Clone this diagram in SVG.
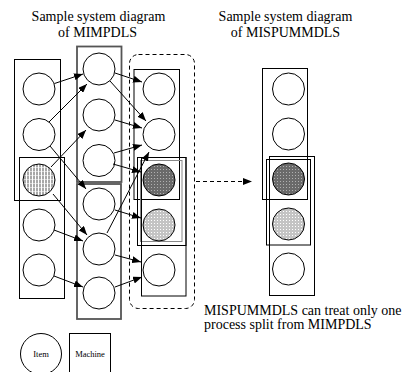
<svg xmlns="http://www.w3.org/2000/svg" width="402" height="372" viewBox="0 0 402 372">
<style>
.t{font-family:"Liberation Serif","Times New Roman",serif;font-size:14px;fill:#000}
.s{font-family:"Liberation Serif","Times New Roman",serif;font-size:8.5px;fill:#000;text-anchor:middle}
.m{fill:none;stroke:#000;stroke-width:1}
.m2{fill:none;stroke:#555;stroke-width:1.8}
.mg{fill:none;stroke:#888;stroke-width:1}
.i{fill:#fff;stroke:#000;stroke-width:1}
.ih{fill:url(#hatch);stroke:#000;stroke-width:1}
.id{fill:url(#dark);stroke:#000;stroke-width:1}
.il{fill:url(#light);stroke:#000;stroke-width:1}
.c{stroke:#000;stroke-width:1;fill:none;marker-end:url(#ah)}
.d{stroke:#000;stroke-width:1;fill:none;stroke-dasharray:4,3}
</style>
<defs>
<marker id="ah" markerUnits="userSpaceOnUse" markerWidth="9" markerHeight="7" refX="9" refY="3.5" orient="auto"><path d="M0,0 L9,3.5 L0,7 z" fill="#000"/></marker>
<pattern id="hatch" width="3" height="4" patternUnits="userSpaceOnUse"><rect width="3" height="4" fill="#a8a8a8"/><rect x="2" width="1" height="4" fill="#fff"/><rect y="3" width="2" height="1" fill="#d8d8d8"/></pattern>
<pattern id="dark" width="3" height="3" patternUnits="userSpaceOnUse"><rect width="3" height="3" fill="#6a6a6a"/><rect x="1" y="1" width="1" height="1" fill="#b0b0b0"/></pattern>
<pattern id="light" width="3" height="3" patternUnits="userSpaceOnUse"><rect width="3" height="3" fill="#c4c4c4"/><rect x="1" y="1" width="1" height="1" fill="#fff"/></pattern>
</defs>
<rect width="402" height="372" fill="#fff"/>
<g id="titles">
<text class="t" x="98.5" y="21" text-anchor="middle">Sample system diagram</text>
<text class="t" x="97.5" y="37" text-anchor="middle">of MIMPDLS</text>
<text class="t" x="285.5" y="21" text-anchor="middle">Sample system diagram</text>
<text class="t" x="285.5" y="37" text-anchor="middle">of MISPUMMDLS</text>
<text class="t" x="204" y="315">MISPUMMDLS can treat only one</text>
<text class="t" x="204" y="329">process split from MIMPDLS</text>
</g>
<g id="split-boundary"><rect x="129.5" y="54.5" width="65" height="254" rx="9" class="d"/></g>
<g id="machines">
<rect id="m1a" class="m" x="14.5" y="59.5" width="46" height="141"/>
<rect id="m1b" class="m" x="19.5" y="157.5" width="45" height="141"/>
<rect id="m2a" class="m2" x="77" y="46.5" width="44.5" height="135.5"/>
<rect id="m2b" class="m2" x="77" y="184" width="44" height="135"/>
<rect id="m3a" class="m" x="134" y="69.5" width="45.5" height="130"/>
<rect id="m3b" class="m" x="137.5" y="157.5" width="48.5" height="88"/>
<rect id="m3b2" class="mg" x="140.5" y="160.5" width="41.5" height="81"/>
<rect id="m3c" class="m" x="141.5" y="157.5" width="44.5" height="138.5"/>
<rect id="m4a" class="m" x="262.5" y="68.5" width="45" height="131"/>
<rect id="m4b" class="m" x="266.5" y="159.5" width="44" height="85.5"/>
<rect id="m4c" class="m" x="269.5" y="156.5" width="45" height="139"/>
</g>
<g id="items">
<circle id="i1_1" class="i" cx="39" cy="89" r="16"/>
<circle id="i1_2" class="i" cx="39" cy="134.5" r="16"/>
<circle id="i1_3" class="ih" cx="39" cy="180" r="16"/>
<circle id="i1_4" class="i" cx="39" cy="225" r="16"/>
<circle id="i1_5" class="i" cx="39" cy="270" r="16"/>
<circle id="i2_1" class="i" cx="99" cy="69" r="16"/>
<circle id="i2_2" class="i" cx="99" cy="115" r="16"/>
<circle id="i2_3" class="i" cx="99" cy="160.5" r="16"/>
<circle id="i2_4" class="i" cx="99" cy="204" r="16"/>
<circle id="i2_5" class="i" cx="99" cy="249" r="16"/>
<circle id="i2_6" class="i" cx="99" cy="293" r="16"/>
<circle id="i3_1" class="i" cx="159" cy="89" r="16"/>
<circle id="i3_2" class="i" cx="159" cy="134.5" r="16"/>
<circle id="i3_3" class="id" cx="159" cy="180" r="16"/>
<circle id="i3_4" class="il" cx="159" cy="225" r="16"/>
<circle id="i3_5" class="i" cx="159" cy="270" r="16"/>
<circle id="i4_1" class="i" cx="288.5" cy="89" r="16"/>
<circle id="i4_2" class="i" cx="288.5" cy="134" r="16"/>
<circle id="i4_3" class="id" cx="288.5" cy="179" r="16"/>
<circle id="i4_4" class="il" cx="288.5" cy="224" r="16"/>
<circle id="i4_5" class="i" cx="288.5" cy="269" r="16"/>
</g>
<g id="connectors">
<line class="c" x1="54.5" y1="83.5" x2="83" y2="74"/>
<line class="c" x1="49" y1="122" x2="87" y2="84"/>
<line class="c" x1="51" y1="167" x2="86" y2="130"/>
<line class="c" x1="50" y1="146" x2="86" y2="189"/>
<line class="c" x1="53" y1="194" x2="87" y2="235"/>
<line class="c" x1="54" y1="230" x2="83" y2="241"/>
<line class="c" x1="54" y1="276" x2="83" y2="287"/>
<line class="c" x1="115" y1="73" x2="142" y2="82"/>
<line class="c" x1="110" y1="81" x2="146" y2="121"/>
<line class="c" x1="115" y1="120" x2="142" y2="128"/>
<line class="c" x1="114" y1="153" x2="142" y2="145"/>
<line class="c" x1="113" y1="164" x2="141" y2="172"/>
<line class="c" x1="107" y1="233" x2="149" y2="152"/>
<line class="c" x1="115" y1="210" x2="141" y2="218"/>
<line class="c" x1="115" y1="255" x2="141" y2="262"/>
<line class="c" x1="115" y1="287" x2="142" y2="277"/>
<line class="d" x1="196" y1="181.5" x2="244" y2="181.5"/>
<path d="M243,178 L252,181.5 L243,185 z" fill="#000"/>
</g>
<g id="legend-item"><circle class="i" cx="41" cy="354" r="20.5"/><text class="s" x="41" y="357">Item</text></g>
<g id="legend-machine"><rect class="m" x="69.5" y="333.5" width="41" height="42"/><text class="s" x="90" y="357">Machine</text></g>
</svg>
